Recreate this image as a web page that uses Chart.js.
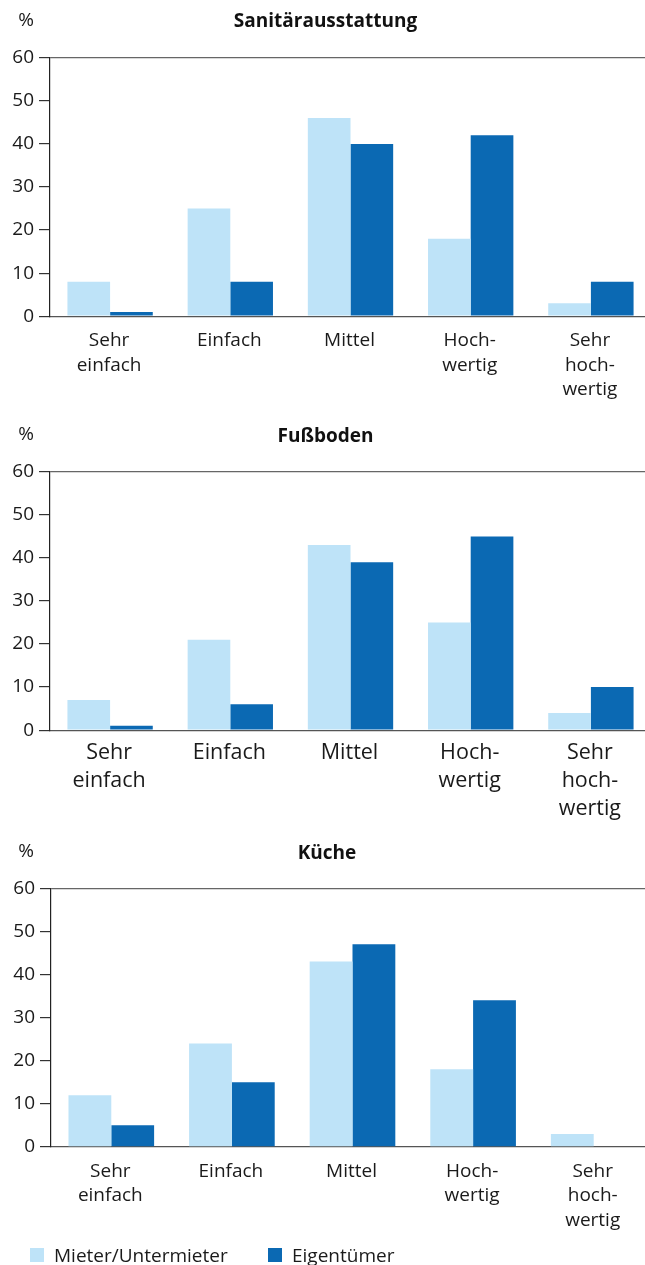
<!DOCTYPE html>
<html lang="de">
<head>
<meta charset="utf-8">
<title>Ausstattung nach Wohnstatus</title>
<script src="https://cdn.jsdelivr.net/npm/chart.js@4.4.1/dist/chart.umd.min.js"></script>
<style>
  html, body { margin: 0; padding: 0; background: #fff; overflow: hidden; }
  #page { position: relative; width: 645px; height: 1265px; overflow: hidden; }
  #page canvas { position: absolute; left: 0; }
  .legend-item { position: absolute; top: 1245px; height: 20px; display: flex; align-items: center;
    font: 19px 'Open Sans', sans-serif; color: #1a1a1a; white-space: nowrap; }
  .legend-item span.box { width: 14px; height: 14px; margin-right: 10px; }
</style>
</head>
<body>
<div id="page">
  <canvas id="sanitaer" width="651" height="420" style="top:0"></canvas>
  <canvas id="fussboden" width="651" height="425" style="top:410px"></canvas>
  <canvas id="kueche" width="654" height="435" style="top:830px"></canvas>
</div>
<script>
// Data
const categories = [['Sehr', 'einfach'], 'Einfach', 'Mittel', ['Hoch-', 'wertig'], ['Sehr', 'hoch-', 'wertig']];
const seriesNames = ['Mieter/Untermieter', 'Eigentümer'];

const sanitaerMieter = [8, 25, 46, 18, 3];
const sanitaerEigentuemer = [1, 8, 40, 42, 8];

const fussbodenMieter = [7, 21, 43, 25, 4];
const fussbodenEigentuemer = [1, 6, 39, 45, 10];

const kuecheMieter = [12, 24, 43, 18, 3];
const kuecheEigentuemer = [5, 15, 47, 34, 0];

const yMin = 0;
const yMax = 60;
const yStep = 10;

const colors = ['#bee3f8', '#0b69b3'];

Chart.defaults.font.family = "'Open Sans', sans-serif";
Chart.defaults.color = '#1a1a1a';

// draws the "%" unit label above the y axis
const percentLabel = {
    id: 'percentLabel',
    afterDraw(chart) {
        const ctx = chart.ctx;
        ctx.save();
        ctx.font = "19px 'Open Sans', sans-serif";
        ctx.fillStyle = '#1a1a1a';
        ctx.textAlign = 'center';
        ctx.textBaseline = 'middle';
        ctx.fillText('%', 26, chart.chartArea.top - 37);
        ctx.restore();
    }
};

function makeChart(id, title, mieter, eigentuemer, opt) {
    return new Chart(document.getElementById(id), {
        type: 'bar',
        data: {
            labels: categories,
            datasets: [
                { label: seriesNames[0], data: mieter, backgroundColor: colors[0] },
                { label: seriesNames[1], data: eigentuemer, backgroundColor: colors[1] }
            ]
        },
        options: {
            responsive: false,
            animation: false,
            events: [],
            layout: { padding: { bottom: opt.bottom } },
            datasets: {
                bar: { categoryPercentage: 0.71, barPercentage: 1, borderWidth: 0 }
            },
            plugins: {
                legend: { display: false },
                tooltip: { enabled: false },
                title: {
                    display: true,
                    text: title,
                    color: '#111',
                    font: { size: 19, weight: 'bold' },
                    padding: { top: opt.titleTop, bottom: opt.titleBottom }
                }
            },
            scales: {
                x: {
                    grid: { display: false, drawTicks: false },
                    border: { color: '#555', width: 1.2 },
                    ticks: {
                        font: { size: opt.labelSize, lineHeight: 1.3 },
                        color: '#1a1a1a',
                        padding: opt.labelPad,
                        labelOffset: -1,
                        autoSkip: false,
                        maxRotation: 0
                    }
                },
                y: {
                    min: yMin,
                    max: yMax,
                    afterFit: (scale) => { scale.width = opt.axisWidth; },
                    grid: {
                        color: (c) => c.tick.value === yMax ? '#666' : 'rgba(0,0,0,0)',
                        lineWidth: 1.2,
                        tickColor: '#333',
                        tickLength: 11
                    },
                    border: { color: '#222', width: 1.2 },
                    ticks: {
                        stepSize: yStep,
                        font: { size: 19 },
                        color: '#1a1a1a',
                        padding: 5
                    }
                }
            }
        },
        plugins: [percentLabel]
    });
}

makeChart('sanitaer', 'Sanitärausstattung', sanitaerMieter, sanitaerEigentuemer,
    { axisWidth: 50, labelSize: 19, labelPad: 12, bottom: 5.7, titleTop: 10.5, titleBottom: 24.5 });
makeChart('fussboden', 'Fußboden', fussbodenMieter, fussbodenEigentuemer,
    { axisWidth: 50, labelSize: 21.5, labelPad: 9, bottom: 3, titleTop: 15, titleBottom: 24 });
const kuecheChart = makeChart('kueche', 'Küche', kuecheMieter, kuecheEigentuemer,
    { axisWidth: 51, labelSize: 19, labelPad: 12, bottom: 20, titleTop: 12, titleBottom: 23.5 });

// legend below the last chart, built from the chart's datasets
const legendLeft = [30, 268];
kuecheChart.data.datasets.forEach((ds, i) => {
    const item = document.createElement('div');
    item.className = 'legend-item';
    item.style.left = legendLeft[i] + 'px';
    const box = document.createElement('span');
    box.className = 'box';
    box.style.background = ds.backgroundColor;
    item.appendChild(box);
    item.appendChild(document.createTextNode(ds.label));
    document.getElementById('page').appendChild(item);
});
</script>
</body>
</html>
